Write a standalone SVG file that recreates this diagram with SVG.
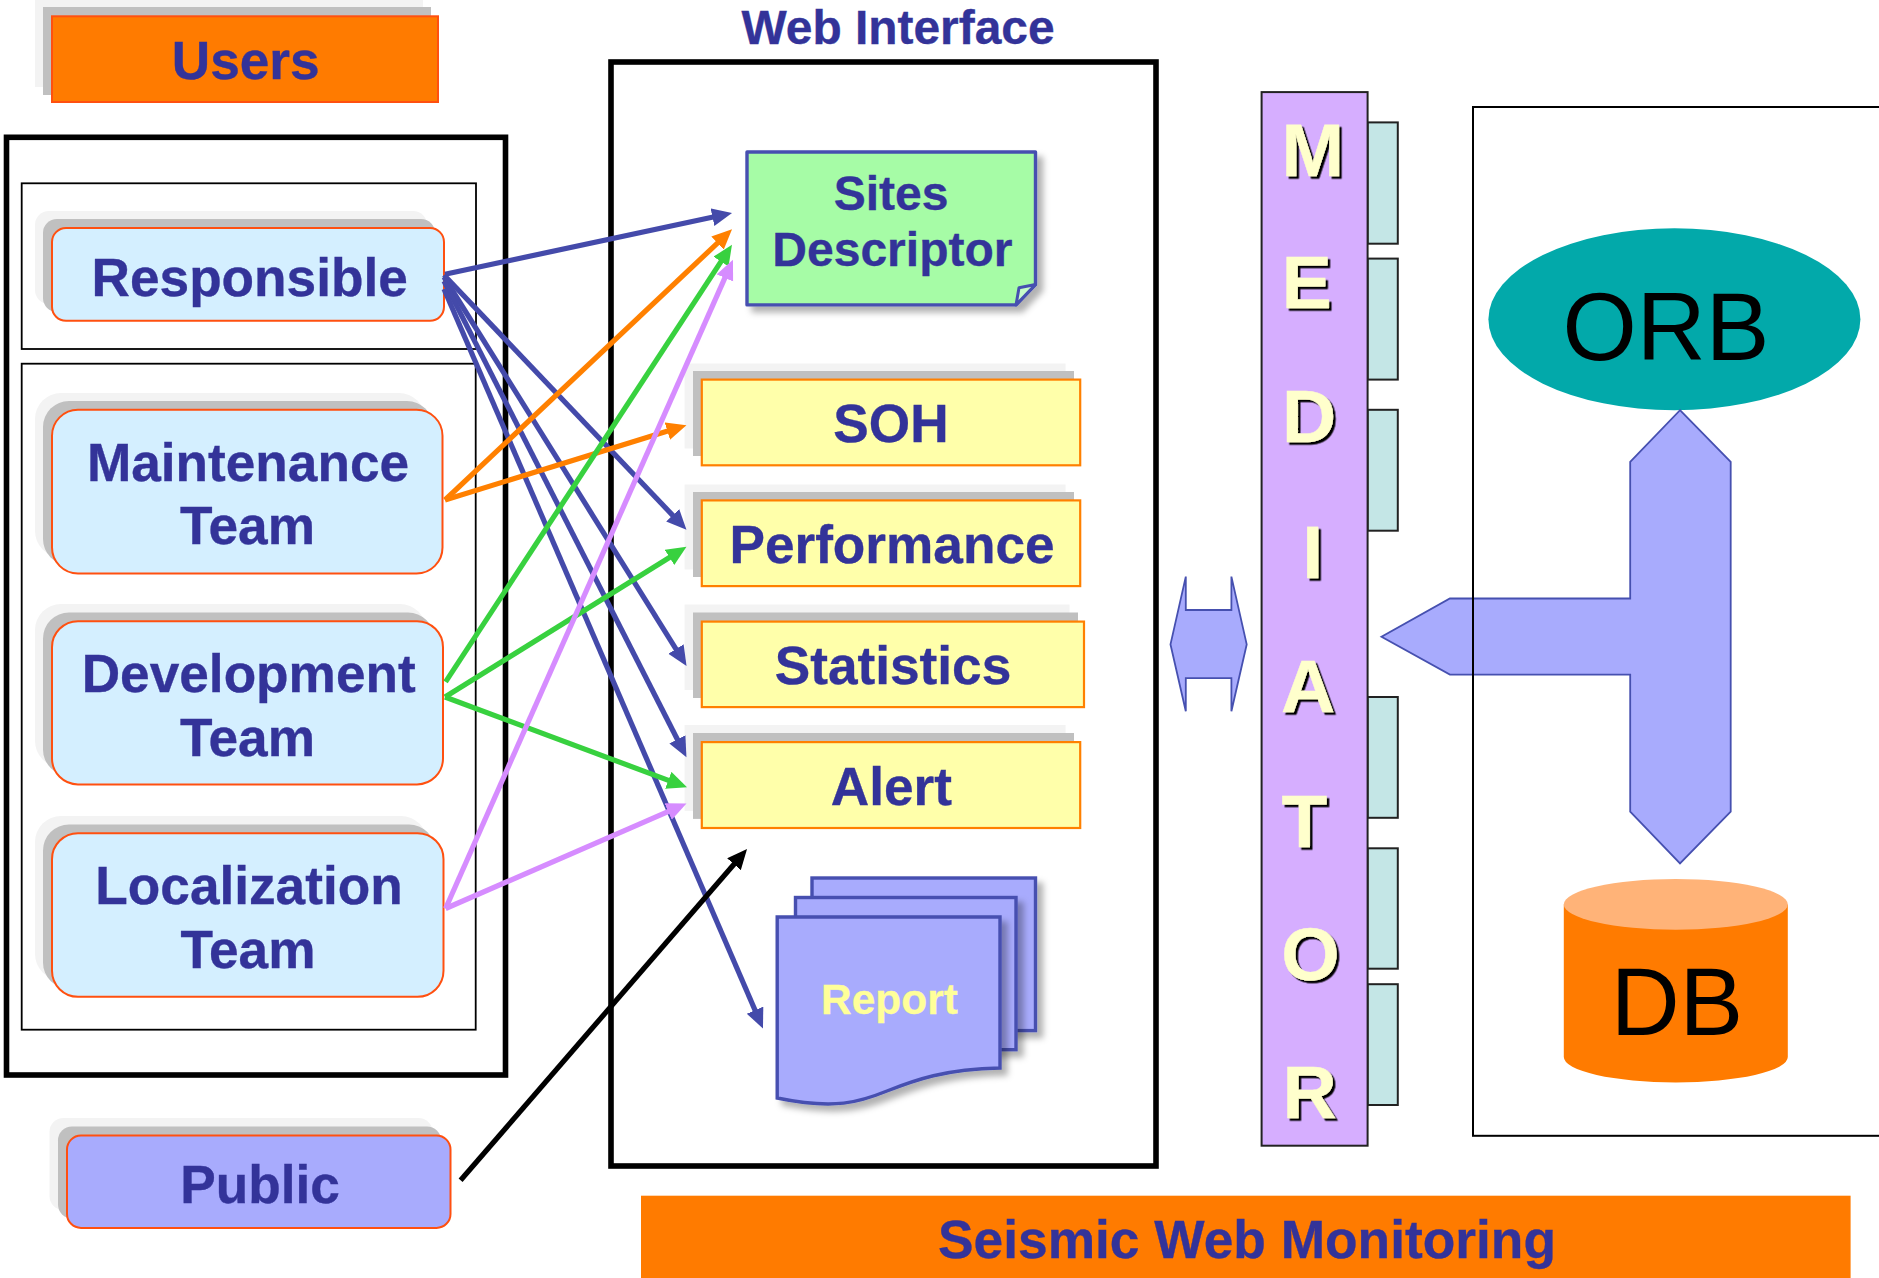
<svg xmlns="http://www.w3.org/2000/svg" width="1879" height="1278" viewBox="0 0 1879 1278">
<style>
text{font-family:"Liberation Sans",Arial,sans-serif;text-anchor:middle}
.t{font-weight:bold;font-size:53.2px;fill:#333399;stroke:#333399;stroke-width:.35}
.box{fill:none;stroke:#000}
.s1{fill:#f3f3f3}.s2{fill:#c0c0c0}
.team{fill:#d4efff;stroke:#ff5010;stroke-width:2}
.pub{fill:#a8abfd;stroke:#ff5010;stroke-width:2}
.y{fill:#ffffaa;stroke:#ff8000;stroke-width:2.2}
.sheet{fill:#a8abfd;stroke:#4650b0;stroke-width:3.4;filter:url(#ds)}
.tab{fill:#c4e6e6;stroke:#222;stroke-width:2}
.big{fill:#a8abfd;stroke:#4650b0;stroke-width:1.8}
.m{font-weight:bold;font-size:75px;fill:#ffffcc;stroke:#ffffcc;stroke-width:.4;filter:url(#ls)}
.c{fill:none;stroke-width:5.2}
.b{stroke:#444aaa}.o{stroke:#ff8000}.g{stroke:#38d13f}.p{stroke:#d68cff}.k{stroke:#000}
</style>
<defs>
<filter id="ds" x="-10%" y="-10%" width="125%" height="125%"><feDropShadow dx="6" dy="6" stdDeviation="3" flood-color="#000" flood-opacity=".3"/></filter>
<filter id="ls" x="-20%" y="-20%" width="150%" height="150%"><feDropShadow dx="2.5" dy="2.5" stdDeviation=".7" flood-color="#000" flood-opacity="1"/></filter>
<marker id="ab" markerUnits="userSpaceOnUse" markerWidth="22" markerHeight="20" refX="8" refY="9" orient="auto"><path d="M0 0L20 9L0 18Z" fill="#444aaa"/></marker>
<marker id="ao" markerUnits="userSpaceOnUse" markerWidth="22" markerHeight="20" refX="8" refY="9" orient="auto"><path d="M0 0L20 9L0 18Z" fill="#ff8000"/></marker>
<marker id="ag" markerUnits="userSpaceOnUse" markerWidth="22" markerHeight="20" refX="8" refY="9" orient="auto"><path d="M0 0L20 9L0 18Z" fill="#38d13f"/></marker>
<marker id="ap" markerUnits="userSpaceOnUse" markerWidth="22" markerHeight="20" refX="8" refY="9" orient="auto"><path d="M0 0L20 9L0 18Z" fill="#d68cff"/></marker>
<marker id="ak" markerUnits="userSpaceOnUse" markerWidth="22" markerHeight="20" refX="8" refY="9" orient="auto"><path d="M0 0L20 9L0 18Z" fill="#000"/></marker>
</defs>
<rect width="1879" height="1278" fill="#fff"/>
<g id="containers">
<rect class="box" x="6.5" y="137.3" width="499" height="937.7" stroke-width="5.6"/>
<rect class="box" x="21.7" y="183.3" width="454.3" height="165.7" stroke-width="1.8"/>
<rect class="box" x="21.7" y="363.7" width="454" height="666" stroke-width="1.8"/>
<rect class="box" x="611" y="62" width="545" height="1104" stroke-width="5.6"/>
</g>
<g id="users">
<rect class="s1" x="35" y="-1" width="388" height="88"/><rect class="s2" x="43" y="7" width="388" height="88"/>
<rect x="52" y="16.3" width="386" height="85.7" fill="#ff7b00" stroke="#ff5010" stroke-width="2"/>
<text class="t" x="245.7" y="79.2">Users</text>
</g>
<g id="responsible">
<rect class="s1" x="35" y="211" width="392" height="93" rx="14"/><rect class="s2" x="43" y="219" width="392" height="93" rx="14"/>
<rect class="team" x="52" y="228" width="392" height="92.8" rx="14"/>
<text class="t" x="249.7" y="295.5">Responsible</text>
</g>
<g id="maintenance">
<rect class="s1" x="35" y="393" width="390" height="164" rx="26"/><rect class="s2" x="43" y="401" width="390" height="164" rx="26"/>
<rect class="team" x="52" y="409.8" width="390.5" height="163.7" rx="26"/>
<text class="t" x="248" y="480.8">Maintenance</text><text class="t" x="247.5" y="544">Team</text>
</g>
<g id="development">
<rect class="s1" x="35" y="604" width="391" height="163" rx="26"/><rect class="s2" x="43" y="612.5" width="391" height="163" rx="26"/>
<rect class="team" x="52" y="621.2" width="391" height="163.2" rx="26"/>
<text class="t" x="248.7" y="691.8">Development</text><text class="t" x="247.5" y="756">Team</text>
</g>
<g id="localization">
<rect class="s1" x="35" y="816" width="392" height="164" rx="26"/><rect class="s2" x="43" y="824.5" width="392" height="164" rx="26"/>
<rect class="team" x="52" y="833.2" width="391.5" height="163.6" rx="26"/>
<text class="t" x="249" y="903.6">Localization</text><text class="t" x="248" y="968">Team</text>
</g>
<g id="public">
<rect class="s1" x="49.5" y="1118" width="383" height="92" rx="14"/><rect class="s2" x="58" y="1126.5" width="383" height="92" rx="14"/>
<rect class="pub" x="67" y="1135.5" width="383.5" height="92.4" rx="14"/>
<text class="t" x="260" y="1202.6">Public</text>
</g>
<text id="web-title" class="t" style="font-size:47.9px" x="898" y="43.7">Web Interface</text>
<g id="sites">
<path d="M747 152H1035.5V284.5L1016 304.9H747Z" fill="#a6fca6" stroke="#4650b0" stroke-width="3.4" stroke-linejoin="round" filter="url(#ds)"/>
<path d="M1035.5 284.5L1019 287.8L1016 304.9Z" fill="#c8fdc8" stroke="#4650b0" stroke-width="3" stroke-linejoin="round"/>
<text class="t" style="font-size:48px" x="891" y="210.4">Sites</text><text class="t" style="font-size:48px" x="892.4" y="266.1">Descriptor</text>
</g>
<g id="soh">
<rect class="s1" x="684.6" y="363.5" width="381" height="85"/><rect class="s2" x="693" y="371" width="381" height="85"/>
<rect class="y" x="701.8" y="379.6" width="378.4" height="85.7"/>
<text class="t" x="891" y="442.4">SOH</text>
</g>
<g id="performance">
<rect class="s1" x="684.6" y="484.5" width="381" height="85"/><rect class="s2" x="693" y="492" width="381" height="85"/>
<rect class="y" x="701.8" y="500.4" width="378.4" height="85.7"/>
<text class="t" x="892" y="563.3">Performance</text>
</g>
<g id="statistics">
<rect class="s1" x="684.6" y="604.5" width="385" height="85.5"/><rect class="s2" x="693" y="612.5" width="385" height="85.5"/>
<rect class="y" x="701.8" y="621.6" width="382.2" height="85.5"/>
<text class="t" x="893" y="683.9">Statistics</text>
</g>
<g id="alert">
<rect class="s1" x="684.6" y="725" width="381" height="85.9"/><rect class="s2" x="693" y="733" width="381" height="85.9"/>
<rect class="y" x="701.8" y="742.1" width="378.4" height="85.9"/>
<text class="t" x="891.4" y="804.8">Alert</text>
</g>
<g id="report">
<rect class="sheet" x="812" y="878" width="223.5" height="152.6"/>
<rect class="sheet" x="795.5" y="897.5" width="220.5" height="152.2"/>
<path class="sheet" d="M777.2 917H1000V1068C945 1069 915 1080 887 1091C860 1102 835 1110 777.2 1098Z"/>
<text x="889.5" y="1013.5" font-weight="bold" font-size="42.5" fill="#ffff99" stroke="#ffff99" stroke-width=".3">Report</text>
</g>
<g id="mediator">
<rect class="tab" x="1367.6" y="122.4" width="30.2" height="121.3"/>
<rect class="tab" x="1367.6" y="258.6" width="30.2" height="121"/>
<rect class="tab" x="1367.6" y="409.8" width="30.2" height="120.9"/>
<rect class="tab" x="1367.6" y="697" width="30.2" height="120.8"/>
<rect class="tab" x="1367.6" y="848.3" width="30.2" height="120.4"/>
<rect class="tab" x="1367.6" y="984.2" width="30.2" height="120.8"/>
<rect x="1261.6" y="92.1" width="106" height="1053.6" fill="#d6aeff" stroke="#222" stroke-width="2"/>
<text class="m" x="1312.7" y="175.7">M</text>
<text class="m" x="1306.7" y="308">E</text>
<text class="m" x="1309" y="441.7">D</text>
<text class="m" x="1312.7" y="578">I</text>
<text class="m" x="1308" y="712">A</text>
<text class="m" x="1304.3" y="847">T</text>
<text class="m" x="1310.4" y="980">O</text>
<text class="m" x="1309.5" y="1117.5">R</text>
</g>
<g id="link-web-mediator">
<path class="big" d="M1170.5 644.4L1185.8 576.6V610H1231.4V576.6L1246.7 644.4L1231.4 711.2V678.2H1185.8V711.2Z"/>
</g>
<g id="orb">
<ellipse cx="1674.4" cy="319.3" rx="186" ry="91" fill="#02a9aa"/>
<text x="1666" y="360" font-size="95.5" fill="#000">ORB</text>
</g>
<g id="db">
<path d="M1563.8 904.4V1057A112 25.4 0 0 0 1787.8 1057V904.4Z" fill="#ff7b00"/>
<ellipse cx="1675.8" cy="904.4" rx="112" ry="25.4" fill="#ffb378"/>
<text x="1677" y="1034.6" font-size="95.5" fill="#000">DB</text>
</g>
<g id="orb-db-link">
<path class="big" d="M1680 410.2L1730.7 461.8V811.7L1680 863.4L1630.2 811.7V674.6H1449.9L1381.5 636.7L1449.9 598.5H1630.2V461.8Z"/>
</g>
<rect id="backend" class="box" x="1473" y="107" width="420" height="1028.8" stroke-width="2"/>
<g id="banner">
<rect x="641" y="1195.7" width="1209.6" height="82.3" fill="#ff7b00"/>
<text class="t" x="1247" y="1258.4" style="font-size:53.3px">Seismic Web Monitoring</text>
</g>
<g id="connectors">
<path class="c b" marker-end="url(#ab)" d="M445 274.3L720.3 215.5"/>
<path class="c b" marker-end="url(#ab)" d="M444 275L678.2 521.1"/>
<path class="c b" marker-end="url(#ab)" d="M444 277L680.2 655.8"/>
<path class="c b" marker-end="url(#ab)" d="M444 281L681 746.5"/>
<path class="c b" marker-end="url(#ab)" d="M444 289L758.2 1017.5"/>
<path class="c o" marker-end="url(#ao)" d="M445 500L723.3 237.6"/>
<path class="c o" marker-end="url(#ao)" d="M445 500L675 428.8"/>
<path class="c g" marker-end="url(#ag)" d="M445.6 681.9L725.4 254.9"/>
<path class="c g" marker-end="url(#ag)" d="M445 697L676.3 553.2"/>
<path class="c g" marker-end="url(#ag)" d="M445 697L675.8 783.1"/>
<path class="c p" marker-end="url(#ap)" d="M445.6 908.5L728.1 270.6"/>
<path class="c p" marker-end="url(#ap)" d="M445.6 908.5L675.5 808.3"/>
<path class="c k" marker-end="url(#ak)" d="M460.6 1180.3L739.2 858.2"/>
</g>
</svg>
